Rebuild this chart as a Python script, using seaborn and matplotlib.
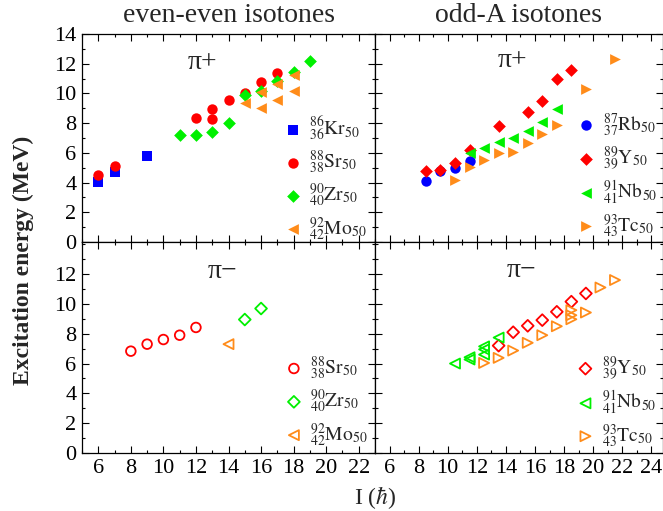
import matplotlib
matplotlib.use("Agg")
import matplotlib.pyplot as plt
import seaborn as sns
from matplotlib.ticker import MultipleLocator

# ---- even-even isotones, positive parity
kr_pos_I = [6, 7, 9]
kr_pos_E = [4.03, 4.72, 5.8]
sr_pos_I = [6, 7, 12, 13, 13, 14, 15, 16, 17]
sr_pos_E = [4.5, 5.09, 8.33, 8.94, 8.27, 9.55, 10.05, 10.74, 11.4]
zr_pos_I = [11, 12, 13, 14, 15, 16, 17, 18, 19]
zr_pos_E = [7.18, 7.2, 7.41, 8.04, 9.89, 10.18, 10.81, 11.46, 12.16]
mo_pos_I = [15, 16, 16, 17, 17, 18, 18]
mo_pos_E = [9.37, 8.99, 10.09, 9.53, 10.65, 10.16, 11.24]

# ---- odd-A isotones, positive parity
rb_pos_I = [8.5, 9.5, 10.5, 11.5]
rb_pos_E = [4.08, 4.8, 4.98, 5.43]
y_pos_I = [8.5, 9.5, 10.5, 11.5, 13.5, 15.5, 16.5, 17.5, 18.5]
y_pos_E = [4.8, 4.88, 5.3, 6.22, 7.84, 8.72, 9.46, 10.97, 11.6]
nb_pos_I = [11.5, 12.5, 13.5, 14.5, 15.5, 16.5, 17.5]
nb_pos_E = [5.99, 6.33, 6.76, 6.98, 7.45, 8.1, 8.92]
tc_pos_I = [10.5, 11.5, 12.5, 13.5, 14.5, 15.5, 16.5, 17.5, 19.5, 21.5]
tc_pos_E = [4.19, 5.07, 5.54, 6.01, 6.06, 6.69, 7.3, 7.86, 10.29, 12.32]

# ---- even-even isotones, negative parity
sr_neg_I = [8, 9, 10, 11, 12]
sr_neg_E = [6.83, 7.3, 7.61, 7.9, 8.42]
zr_neg_I = [15, 16]
zr_neg_E = [8.95, 9.69]
mo_neg_I = [14]
mo_neg_E = [7.3]

# ---- odd-A isotones, negative parity
y_neg_I = [13.5, 14.5, 15.5, 16.5, 17.5, 18.5, 19.5]
y_neg_E = [7.2, 8.1, 8.53, 8.91, 9.47, 10.15, 10.7]
nb_neg_I = [10.5, 11.5, 11.5, 12.5, 12.5, 12.5, 13.5]
nb_neg_E = [6.0, 6.27, 6.42, 6.6, 6.95, 7.15, 7.74]
tc_neg_I = [12.5, 13.5, 14.5, 15.5, 16.5, 17.5, 18.5, 18.5, 18.5, 19.5, 20.5, 21.5]
tc_neg_E = [6.04, 6.38, 6.87, 7.39, 7.9, 8.5, 8.97, 9.24, 9.58, 9.42, 11.1, 11.6]

BLUE = "#0000ff"
RED = "#ff0000"
GREEN = "#00f000"
ORANGE = "#ff8c1a"

sns.set_style("ticks")
plt.rcParams["font.family"] = ["Liberation Serif", "DejaVu Serif"]
plt.rcParams["mathtext.fontset"] = "stix"

fig = plt.figure(figsize=(6.63, 5.11), dpi=100)
ax_tl = fig.add_axes([0.1237, 0.5264, 0.4419, 0.4070])
ax_tr = fig.add_axes([0.5656, 0.5264, 0.4344, 0.4070])
ax_bl = fig.add_axes([0.1237, 0.1135, 0.4419, 0.4129])
ax_br = fig.add_axes([0.5656, 0.1135, 0.4344, 0.4129])


def nucl(a, z, sym):
    return r"$^{%d}_{%d}\mathrm{%s}_{50}$" % (a, z, sym)


def filled(ax, x, y, marker, color, s, label):
    sns.scatterplot(x=x, y=y, ax=ax, marker=marker, s=s, color=color,
                    edgecolor=color, linewidth=0, label=label)


def hollow(ax, x, y, marker, color, s, label):
    sns.scatterplot(x=x, y=y, ax=ax, marker=marker, s=s, color=color,
                    facecolor="none", edgecolor=color, linewidth=1.3, label=label)


filled(ax_tl, kr_pos_I, kr_pos_E, "s", BLUE, 42, nucl(86, 36, "Kr"))
filled(ax_tl, sr_pos_I, sr_pos_E, "o", RED, 56, nucl(88, 38, "Sr"))
filled(ax_tl, zr_pos_I, zr_pos_E, "D", GREEN, 42, nucl(90, 40, "Zr"))
filled(ax_tl, mo_pos_I, mo_pos_E, "<", ORANGE, 60, nucl(92, 42, "Mo"))

filled(ax_tr, rb_pos_I, rb_pos_E, "o", BLUE, 56, nucl(87, 37, "Rb"))
filled(ax_tr, y_pos_I, y_pos_E, "D", RED, 42, nucl(89, 39, "Y"))
filled(ax_tr, nb_pos_I, nb_pos_E, "<", GREEN, 60, nucl(91, 41, "Nb"))
filled(ax_tr, tc_pos_I, tc_pos_E, ">", ORANGE, 60, nucl(93, 43, "Tc"))

hollow(ax_bl, sr_neg_I, sr_neg_E, "o", RED, 48, nucl(88, 38, "Sr"))
hollow(ax_bl, zr_neg_I, zr_neg_E, "D", GREEN, 36, nucl(90, 40, "Zr"))
hollow(ax_bl, mo_neg_I, mo_neg_E, "<", ORANGE, 52, nucl(92, 42, "Mo"))

hollow(ax_br, y_neg_I, y_neg_E, "D", RED, 36, nucl(89, 39, "Y"))
hollow(ax_br, nb_neg_I, nb_neg_E, "<", GREEN, 52, nucl(91, 41, "Nb"))
hollow(ax_br, tc_neg_I, tc_neg_E, ">", ORANGE, 52, nucl(93, 43, "Tc"))

# axes limits and ticks
for ax in (ax_tl, ax_bl):
    ax.set_xlim(5, 23)
    ax.set_xticks(range(6, 23, 2))
for ax in (ax_tr, ax_br):
    ax.set_xlim(5, 24.8)
    ax.set_xticks(range(6, 25, 2))
for ax in (ax_tl, ax_tr):
    ax.set_ylim(0, 14)
    ax.set_yticks(range(0, 15, 2))
    ax.tick_params(labelbottom=False)
for ax in (ax_bl, ax_br):
    ax.set_ylim(0, 14.15)
    ax.set_yticks(range(0, 13, 2))
for ax in (ax_tr, ax_br):
    ax.tick_params(labelleft=False)

for ax in (ax_tl, ax_tr, ax_bl, ax_br):
    ax.xaxis.set_minor_locator(MultipleLocator(1))
    ax.yaxis.set_minor_locator(MultipleLocator(1))
    ax.tick_params(which="both", direction="in", top=True, right=True,
                   width=0.8, colors="black", labelsize=16, pad=4)
    ax.tick_params(which="major", length=5)
    ax.tick_params(which="minor", length=2.5)
    for sp in ax.spines.values():
        sp.set_linewidth(0.9)
        sp.set_color("black")
    ax.set_xlabel("")
    ax.set_ylabel("")

# legends
leg_kw = dict(frameon=False, fontsize=14, handlelength=1.0, handletextpad=0.35,
              borderpad=0, borderaxespad=0, labelspacing=0.3, scatterpoints=1)
ax_tl.legend(loc="lower left", bbox_to_anchor=(0.686, -0.003), **leg_kw)
ax_tr.legend(loc="lower left", bbox_to_anchor=(0.70, 0.012), **leg_kw)
ax_bl.legend(loc="lower left", bbox_to_anchor=(0.69, 0.021), **leg_kw)
ax_br.legend(loc="lower left", bbox_to_anchor=(0.697, 0.016), **leg_kw)

# parity labels
ax_tl.text(0.41, 0.865, "π+", transform=ax_tl.transAxes, fontsize=20, ha="center", va="center")
ax_tr.text(0.479, 0.875, "π+", transform=ax_tr.transAxes, fontsize=20, ha="center", va="center")
ax_bl.text(0.481, 0.858, "π−", transform=ax_bl.transAxes, fontsize=20, ha="center", va="center")
ax_br.text(0.51, 0.867, "π−", transform=ax_br.transAxes, fontsize=20, ha="center", va="center")

ax_tl.set_title("even-even isotones", fontsize=20, pad=9)
ax_tr.set_title("odd-A isotones", fontsize=20, pad=9)

fig.text(0.036, 0.49, "Excitation energy (MeV)", rotation=90, fontsize=17,
         fontweight="bold", ha="center", va="center")
fig.text(0.566, 0.027, r"I ($\hbar$)", fontsize=17, ha="center", va="center")

fig.savefig("out.png", dpi=100)
